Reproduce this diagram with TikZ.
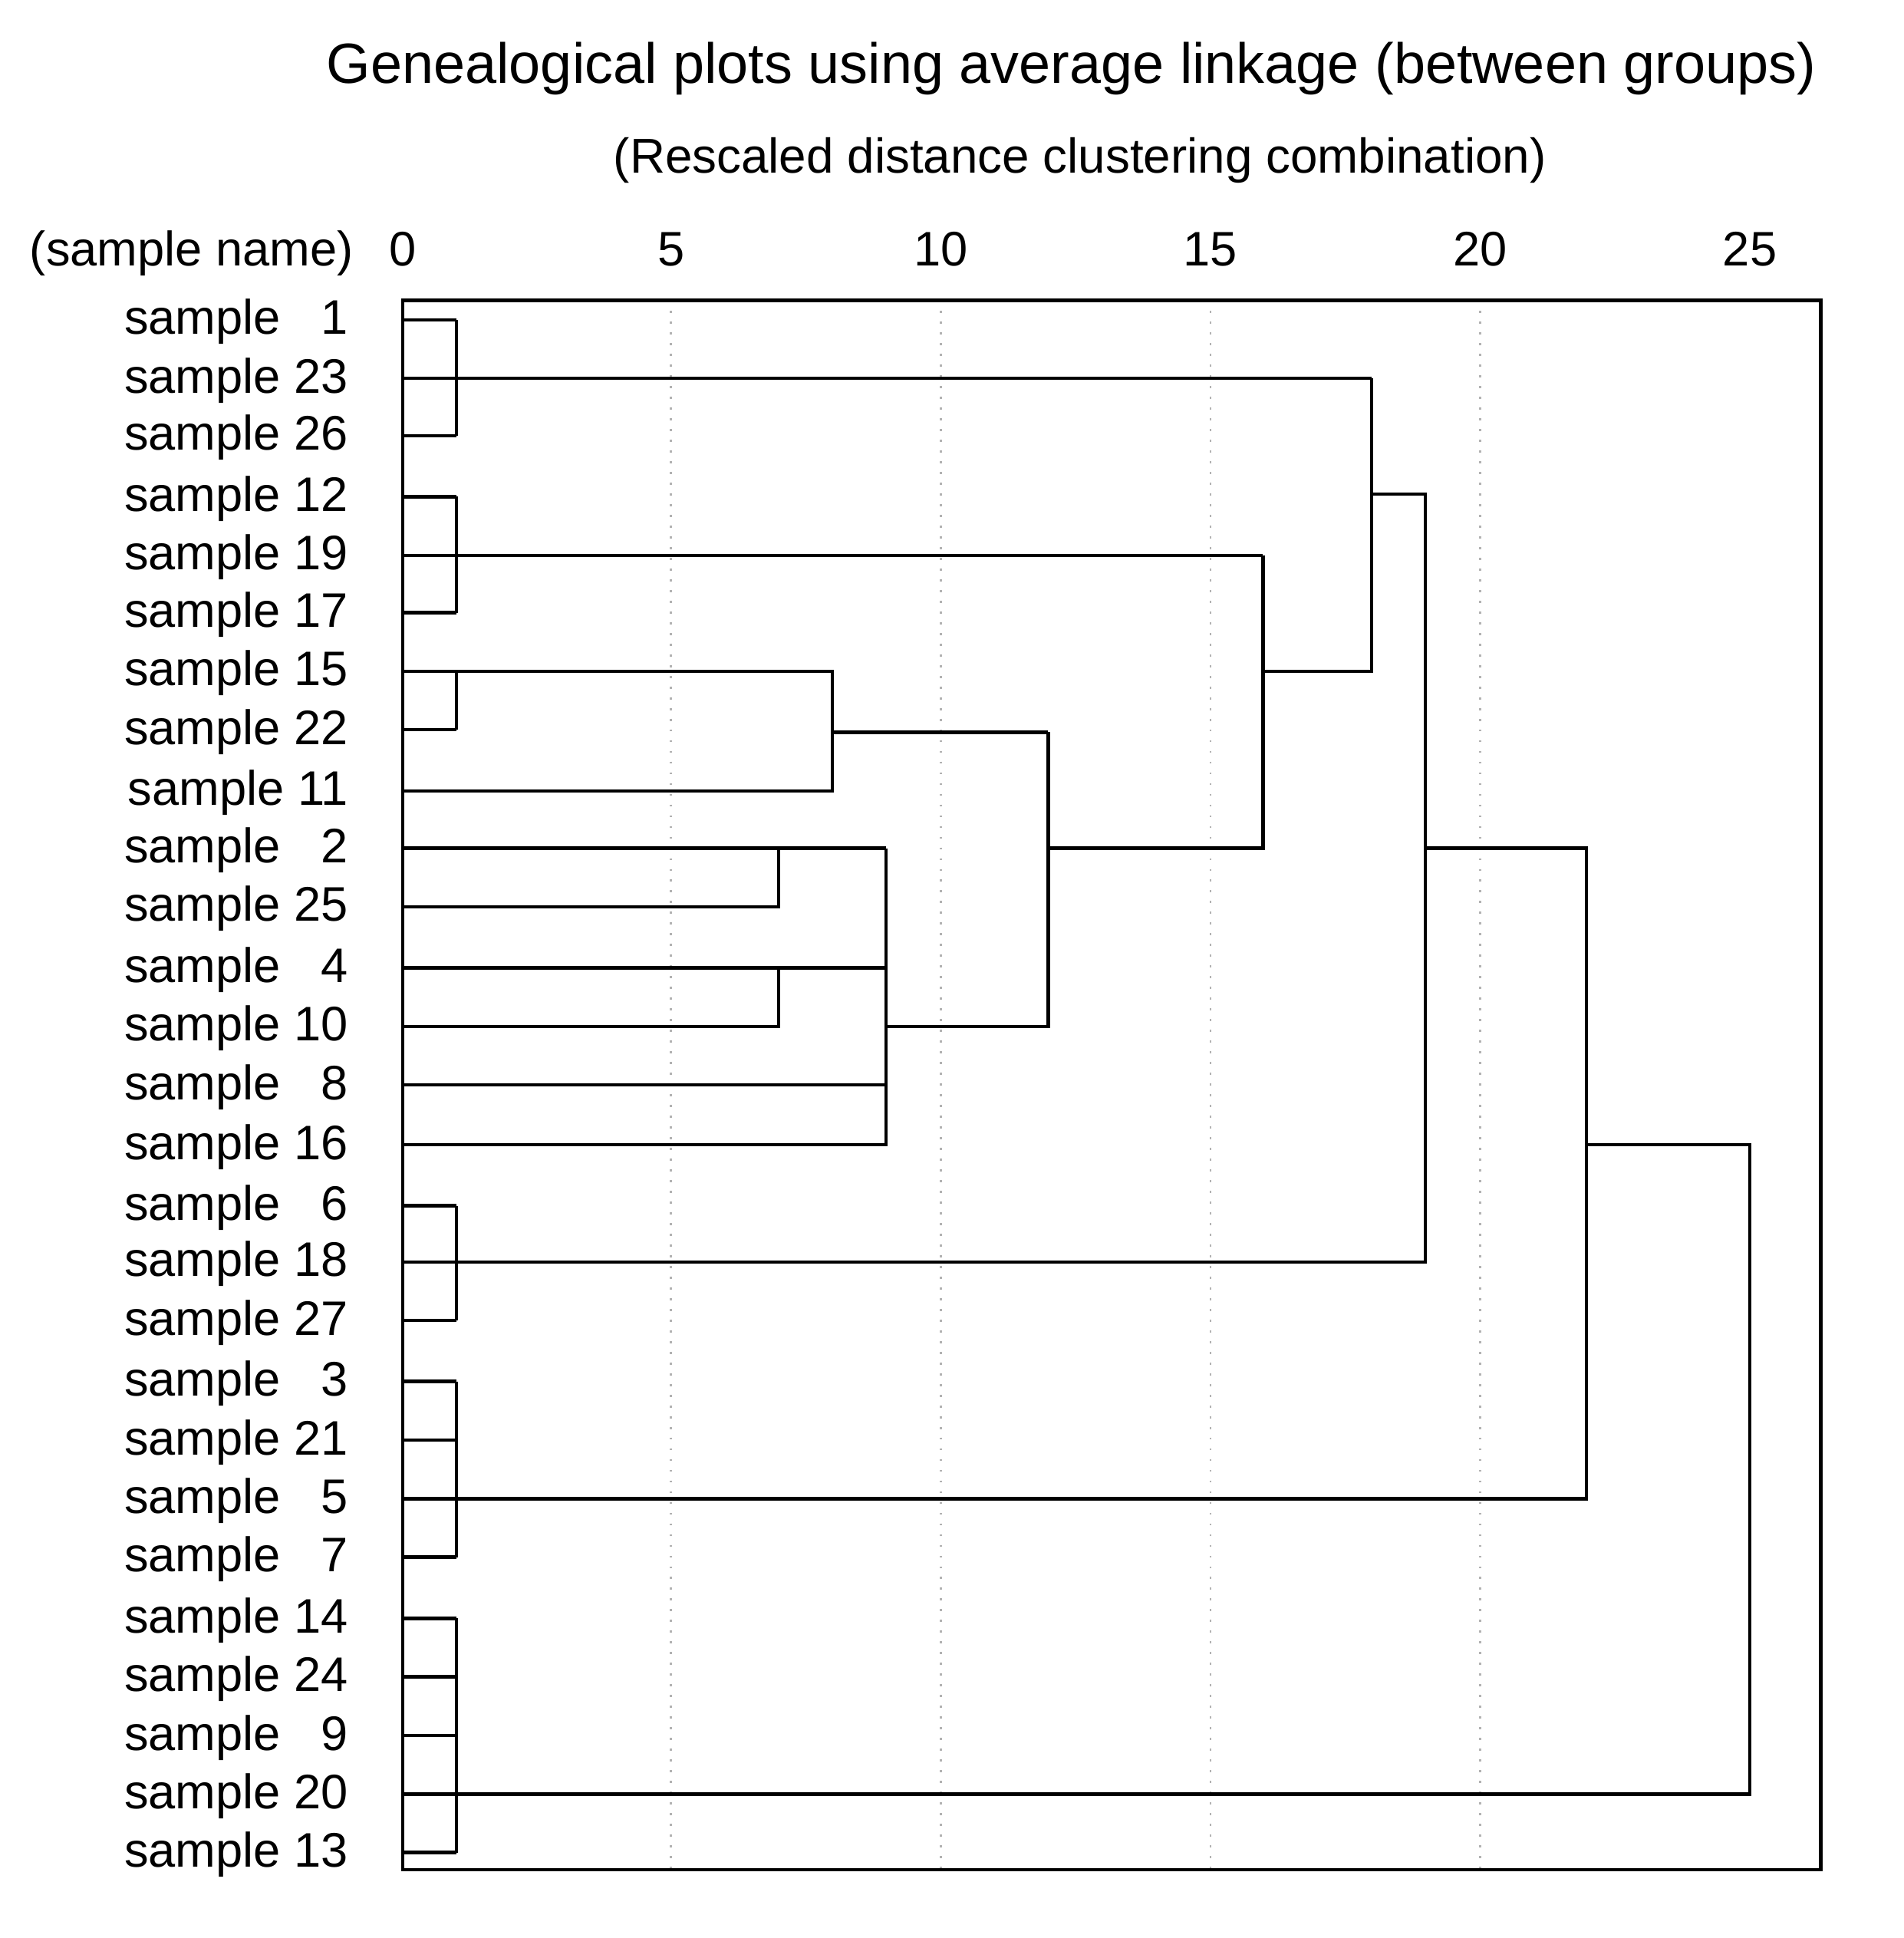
\documentclass[tikz,border=0pt]{standalone}
\usepackage{fontspec}
\setmainfont{Liberation Sans}
\begin{document}
\begin{tikzpicture}[x=0.01cm,y=-0.01cm,
  dl/.style={line width=0.8pt},
  lab/.style={anchor=base east,font=\fontsize{11.3}{13}\selectfont,inner sep=0},
  tick/.style={anchor=base,font=\fontsize{11.3}{13}\selectfont,inner sep=0},
  grid/.style={gray!60,dotted,line width=0.5pt}]
\useasboundingbox (0,0) rectangle (1560,1588);
\node[anchor=base,font=\fontsize{13.2}{15}\selectfont,inner sep=0] (title) at (878,68) {Genealogical plots using average linkage (between groups)};
\node[anchor=base,font=\fontsize{11.4}{13}\selectfont,inner sep=0] (sub) at (885,142) {(Rescaled distance clustering combination)};
\node[anchor=base,font=\fontsize{11.3}{13}\selectfont,inner sep=0] (sn) at (157,218) {(sample name)};
\foreach \v/\xx in {0/330,5/550,10/771,15/992,20/1213,25/1434}
  \node[tick] (t\v) at (\xx,218) {\v};
\foreach \xx in {550,771,992,1213}
  \draw[grid] (\xx,246) -- (\xx,1532);
\draw[dl] (330,246) rectangle (1492,1532);
\foreach \n/\yy in {1/262,23/310,26/357,12/407,19/455,17/502,15/550,22/598,11/648,2/695,25/743,4/793,10/841,8/889,16/938,6/988,18/1034,27/1082,3/1132,21/1180,5/1228,7/1276,14/1326,24/1374,9/1422,20/1470,13/1518}{
  \ifnum\n<10
    \node[lab] (s\n) at (286,\yy+12) {sample \phantom{0}\n};
  \else
    \node[lab] (s\n) at (286,\yy+12) {sample \n};
  \fi
  \coordinate (l\n) at (330,\yy);
}
\foreach \a/\b in {1/26,12/17,15/22,6/27,3/7,14/13}
  \draw[dl] (374,0 |- l\a) -- (374,0 |- l\b);
\foreach \n in {1,23,26,12,19,17,15,22,6,18,27,3,21,5,7,14,24,9,20,13}
  \draw[dl] (l\n) -- (374,0 |- l\n);
\draw[dl] (l23) -- (1124,310);
\draw[dl] (l19) -- (1035,455);
\draw[dl] (l15) -- (682,550) -- (682,648) -- (l11);
\draw[dl] (682,600) -- (859,600);
\draw[dl] (l2) -- (726,695);
\draw[dl] (l25) -- (638,743) -- (638,695);
\draw[dl] (l4) -- (726,793);
\draw[dl] (l10) -- (638,841) -- (638,793);
\draw[dl] (l8) -- (726,889);
\draw[dl] (l16) -- (726,938) -- (726,695);
\draw[dl] (726,841) -- (859,841) -- (859,600);
\draw[dl] (859,695) -- (1035,695) -- (1035,455);
\draw[dl] (1035,550) -- (1124,550) -- (1124,310);
\draw[dl] (1124,405) -- (1168,405) -- (1168,1034) -- (l18);
\draw[dl] (1168,695) -- (1300,695) -- (1300,1228) -- (l5);
\draw[dl] (1300,938) -- (1434,938) -- (1434,1470) -- (l20);
\end{tikzpicture}
\end{document}
